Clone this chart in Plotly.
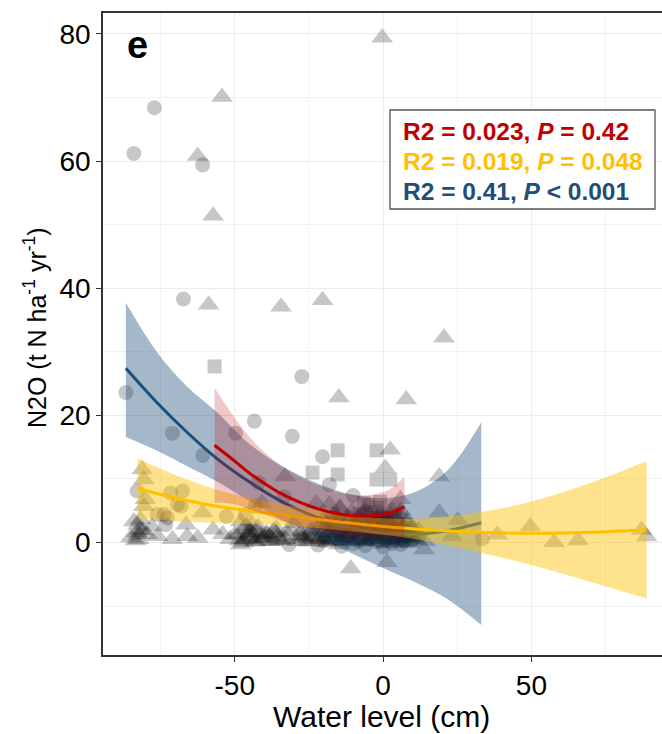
import plotly.graph_objects as go

# ---------------- data ----------------
# squares (red group)
sq_x = [-56.8, -15.3, -23.8, -15.3, -2.2, -2.2, 2.4, -5.0, -2.0, -8.0, 0.0, 4.0, -3.0,
        -6.5, -1.0, 1.5, -4.0]
sq_y = [27.7, 14.5, 11.0, 10.7, 14.5, 9.9, 9.9, 5.9, 5.5, 4.5, 4.0, 5.0, 3.0,
        6.2, 6.4, 3.6, 4.8]

# circles (blue group)
ci_x = [-77.1, -84.0, -60.8, -67.3, -27.4, -86.7, -43.4, -71.0, -49.7, -30.6, -60.8, -20.4,
        -42.0, -18.1, -10.1, -33.4, -82.9, -71.6, -67.6, -68.1, -76.1, -72.7, -73.3, -52.8,
        -46.5, -43.1, 33.4, -73.8, -69.3, -31.7, -25.0, -20.0, -15.0, -12.0, -8.0, -5.0,
        -2.0, 1.0, 4.0, 7.0, 10.0, -28.0, -17.0, -10.0, -4.0, 2.0, 12.0,
        -22.0, -14.0, -6.0, 0.0, 6.0, 9.0, -9.0, -1.0, 3.0]
ci_y = [68.4, 61.2, 59.4, 38.3, 26.1, 23.6, 19.1, 17.2, 17.2, 16.7, 13.7, 13.5,
        9.4, 9.1, 7.4, 7.2, 8.1, 7.8, 8.1, 5.7, 4.4, 3.9, 2.8, 4.1,
        4.4, 5.7, 0.6, 4.4, 6.0, -0.3, 0.8, 0.3, 0.5, 1.0, 0.2, 0.6,
        0.1, 0.4, 0.8, 0.2, 0.5, 1.2, 1.5, -0.2, 1.3, 1.6, 0.9,
        -0.4, -0.6, -0.5, -0.7, -0.3, 1.8, 2.6, 2.2, -0.2]

# triangles (yellow group)
tr_x = [-0.3, -54.3, -62.5, -57.3, -58.8, -34.4, -20.4, 20.5, -14.9, 7.8, 2.4, 0.7,
        18.9, -33.1, -81.2, -80.6, -80.1, -80.6, -60.8, 5.8, 18.9, 25.2, 23.2, 13.8,
        1.3, -10.9, 38.5, 49.6, 57.6, 65.7, 87.1, 88.8, -22.6, -18.1, -14.7, -40.9,
        -82.4, -82.4, -82.0, -82.6, -81.8, -83.0, -71.0, -66.4, -62.5, -57.3, -51.6, -44.8,
        -44.3, -32.9, -38.0, -27.0, -24.0, -20.0, -17.0, -14.0, -11.0, -8.0, -6.0, -4.0,
        -2.0, 0.0, 2.0, 4.0, 6.0, 8.0, 10.0, 12.0, 14.0, -30.0, -36.0, -48.0,
        -54.0, -66.0, -76.0, -78.0, -85.0, -47.0, -45.0, -43.0, -46.0, -41.0, -35.0, -31.0,
        -12.0, -9.0, -6.5, -3.0, -1.0, 1.5, 3.5, 5.5, 7.5, 9.5, -16.0, -19.0,
        -7.0, -2.5, 3.0, 6.5, 11.0, -13.0, -5.0, 0.5,
        -21.0, -19.0, -17.0, -15.0, -13.0, -11.0, -9.0, -7.0, -5.0, -3.0, -1.0, 1.0,
        3.0, 5.0, 7.0, 9.0, 11.0, -20.0, -18.0, -16.0, -14.0, -12.0, -10.0, -8.0,
        -6.0, -4.0, -2.0, 0.0, 2.0, 4.0, 6.0, 8.0, -19.0, -15.0, -11.0, -7.0,
        -3.0, 1.0, 5.0, 9.0, -17.0, -13.0, -9.0, -5.0, -1.0, 3.0, 7.0, -49.0,
        -47.0, -45.0, -43.0, -41.0, -39.0, -37.0, -48.0, -44.0, -40.0, -36.0, -27.0, -25.0,
        -23.0, -29.0, -83.5, -81.0, -84.0, -79.5, -10.5, -6.0, -2.0, 2.5, -14.5, 6.0]
tr_y = [79.4, 70.1, 60.8, 51.4, 37.4, 37.1, 38.1, 32.2, 22.8, 22.5, 14.6, 11.7,
        10.4, 10.4, 11.5, 9.9, 6.8, 5.7, 4.7, 6.8, 4.7, 3.5, 1.0, -1.1,
        -3.1, -4.1, 1.2, 2.5, 0.05, 0.3, 1.95, 0.95, 6.2, 6.0, 5.5, 6.2,
        0.5, 1.2, 2.0, 2.8, 3.6, 1.6, 0.5, 2.8, 0.7, 2.0, 0.5, 2.0,
        0.5, 0.5, 1.0, 0.6, 2.0, 0.5, 1.4, 0.3, 2.2, 0.8, 3.0, 0.2,
        1.8, 0.6, 2.5, 0.3, 1.5, 3.5, 0.8, 2.0, 0.2, 3.0, 2.2, 3.3,
        1.3, 1.0, 1.0, 2.5, 0.8, 0.5, 1.5, 0.2, 2.5, 1.2, 0.4, 1.8,
        4.0, 3.2, 4.6, 2.8, 4.2, 3.6, 2.0, 4.4, 1.2, 2.6, 3.4, 2.8,
        1.6, 0.9, 5.2, 2.4, 1.1, 0.9, 2.4, 3.2,
        1.0, 2.2, 0.4, 3.1, 1.6, 0.2, 2.7, 1.1, 3.8, 0.5, 2.3, 1.4,
        0.1, 2.9, 0.7, 1.9, 0.4, 3.6, 1.5, 2.4, 0.8, 3.3, 1.8, 4.1,
        0.3, 3.0, 0.9, 3.7, 1.2, 2.2, 0.0, 1.0, 0.0, -0.3, 1.2, 2.0,
        1.5, -0.2, 0.6, -0.1, 4.3, 2.5, 0.5, 1.7, 4.6, 3.3, 2.6, 1.2,
        0.0, 0.9, 1.7, 0.4, 1.3, 0.2, -0.3, 2.8, 0.7, 1.5, 1.0, 0.1,
        1.4, 0.2, 0.3, 1.9, 3.3, 1.3, 4.9, 5.1, 3.9, 4.5, 5.4, 5.0]

# dense cloud of triangles near water level 0 (hard to separate in the picture)
dn_x = [-21.5, -20.3, -19.1, -18.4, -17.2, -16.0, -15.3, -14.1, -13.0, -12.2, -11.4, -10.3,
        -9.5, -8.6, -7.7, -6.8, -6.1, -5.2, -4.4, -3.5, -2.7, -1.8, -0.9, 0.2,
        1.1, 2.0, 2.9, 3.8, 4.7, 5.6, 6.5, 7.4, 8.3, 9.2,
        -21.0, -19.8, -18.7, -17.6, -16.5, -15.7, -14.6, -13.5, -12.6, -11.8, -10.8, -9.9,
        -9.0, -8.1, -7.2, -6.4, -5.6, -4.8, -3.9, -3.1, -2.2, -1.3, -0.4, 0.6,
        1.5, 2.4, 3.3, 4.2, 5.1, 6.0, 6.9, 7.8, 8.7, 9.8,
        -50.0, -48.5, -47.2, -46.0, -44.6, -43.3, -42.1, -40.8, -39.5, -38.2, -36.9, -35.5,
        -34.0, -32.6, -28.5, -26.0, -24.5, -23.0]
dn_y = [0.6, 1.9, 3.2, 0.2, 2.5, 1.1, 3.9, 0.7, 2.0, 3.4, 1.3, 0.1,
        2.8, 4.0, 1.6, 0.4, 3.1, 2.2, 0.9, 3.6, 1.4, 0.0, 2.6, 4.2,
        1.0, 3.0, 0.3, 1.8, 3.3, 0.8, 2.4, 0.1, 1.5, 0.6,
        2.8, 0.4, 1.5, 3.6, 0.9, 4.2, 1.9, 2.6, 0.3, 1.2, 3.7, 2.3,
        0.6, 1.7, 3.5, 2.5, 0.2, 4.4, 2.9, 1.0, 3.9, 2.0, 0.5, 1.5,
        3.4, 0.7, 2.4, 4.0, 0.5, 2.9, 1.2, 3.2, 0.9, 2.2,
        1.2, 0.3, 2.1, 0.8, 1.6, 0.1, 2.4, 0.7, 1.4, 0.2, 1.9, 0.9,
        0.3, 1.6, 1.1, 0.2, 1.7, 0.8]

# fitted curves and confidence bands
blue_x = [-86.7, -76, -66, -56, -45, -34, -22, -11, 0, 11, 22, 33.1]
blue_y = [27.4, 21.9, 17.3, 13.2, 9.5, 6.4, 3.9, 2.3, 1.5, 1.3, 1.9, 3.1]
blue_hi = [37.7, 29.8, 24.5, 20.5, 15.5, 12.0, 9.3, 7.6, 7.0, 8.0, 11.5, 18.9]
blue_lo = [16.6, 14.4, 12.0, 9.6, 6.5, 3.5, 1.0, -1.6, -4.0, -6.3, -9.0, -13.0]

red_x = [-56.8, -50, -45, -40, -34, -28, -22, -16, -10, -4, 2, 7.2]
red_y = [15.3, 12.8, 10.9, 9.3, 7.6, 6.3, 5.3, 4.6, 4.2, 4.2, 4.6, 5.6]
red_hi = [24.3, 19.6, 16.6, 14.2, 12.0, 10.3, 9.0, 8.0, 7.5, 7.5, 8.3, 10.3]
red_lo = [6.3, 6.0, 5.2, 4.4, 3.4, 2.5, 1.8, 1.3, 0.9, 0.8, 0.8, 0.9]

yel_x = [-82.7, -70, -56, -42, -28, -14, 0, 15, 33, 50, 70, 88.8]
yel_y = [8.5, 7.0, 5.7, 4.8, 4.0, 3.2, 2.5, 2.0, 1.6, 1.45, 1.6, 2.0]
yel_hi = [13.2, 10.6, 8.3, 6.7, 5.5, 4.5, 3.8, 3.8, 4.8, 6.45, 9.4, 12.8]
yel_lo = [3.8, 3.4, 3.1, 2.9, 2.5, 1.9, 1.2, 0.2, -1.6, -3.55, -6.2, -8.8]

stats_text = ["R2 = 0.023, <i>P</i> = 0.42",
              "R2 = 0.019, <i>P</i> = 0.048",
              "R2 = 0.41, <i>P</i> < 0.001"]
stats_color = ["#C00000", "#FFC000", "#1F4E79"]

# ---------------- figure ----------------
fig = go.Figure()
pt = dict(color="rgba(0,0,0,0.22)", line=dict(width=0))
fig.add_trace(go.Scatter(x=ci_x, y=ci_y, mode="markers",
                         marker=dict(symbol="circle", size=15, **pt), showlegend=False))
fig.add_trace(go.Scatter(x=tr_x + dn_x, y=tr_y + dn_y, mode="markers",
                         marker=dict(symbol="triangle-up", size=19, **pt), showlegend=False))
fig.add_trace(go.Scatter(x=sq_x, y=sq_y, mode="markers",
                         marker=dict(symbol="square", size=14, **pt), showlegend=False))


def add_fit(xs, ys, lo, hi, line_col, fill_col):
    fig.add_trace(go.Scatter(x=xs, y=lo, mode="lines", line=dict(width=0, shape="spline"),
                             showlegend=False, hoverinfo="skip"))
    fig.add_trace(go.Scatter(x=xs, y=hi, mode="lines", line=dict(width=0, shape="spline"),
                             fill="tonexty", fillcolor=fill_col, showlegend=False,
                             hoverinfo="skip"))
    fig.add_trace(go.Scatter(x=xs, y=ys, mode="lines",
                             line=dict(color=line_col, width=3, shape="spline"),
                             showlegend=False))


add_fit(blue_x, blue_y, blue_lo, blue_hi, "#1F4E79", "rgba(31,78,121,0.4)")
add_fit(yel_x, yel_y, yel_lo, yel_hi, "#FFC000", "rgba(255,192,0,0.45)")
add_fit(red_x, red_y, red_lo, red_hi, "#C00000", "rgba(192,0,0,0.22)")

W, H = 662, 734
L, R, T, B = 103, 0, 13, 79
pw, ph = W - L - R, H - T - B


def px(xp):
    return (xp - L) / pw


def py(yp):
    return (H - B - yp) / ph


fig.update_layout(
    width=W, height=H,
    margin=dict(l=L, r=R, t=T, b=B),
    paper_bgcolor="white", plot_bgcolor="white",
    font=dict(family="Liberation Sans, Arial, sans-serif", color="black"),
    xaxis=dict(range=[-94.4, 94.0], tickvals=[-50, 0, 50], ticktext=["-50", "0", "50"],
               showgrid=True, gridcolor="#EBEBEB", gridwidth=1.2,
               minor=dict(tickvals=[-75, -25, 25, 75], showgrid=True,
                          gridcolor="#F2F2F2", gridwidth=0.8),
               zeroline=False, showline=True, linecolor="#333333", linewidth=1.5,
               mirror=True, ticks="outside", ticklen=5, tickcolor="#333333",
               tickfont=dict(size=28, color="black")),
    yaxis=dict(range=[-17.7, 83.3], tickvals=[0, 20, 40, 60, 80],
               showgrid=True, gridcolor="#EBEBEB", gridwidth=1.2,
               minor=dict(tickvals=[-10, 10, 30, 50, 70], showgrid=True,
                          gridcolor="#F2F2F2", gridwidth=0.8),
               zeroline=False, showline=True, linecolor="#333333", linewidth=1.5,
               mirror=False, ticks="outside", ticklen=5, tickcolor="#333333",
               tickfont=dict(size=28, color="black")),
)

# legend box with statistics
fig.add_shape(type="rect", xref="paper", yref="paper",
              x0=px(390), x1=px(655), y0=py(209), y1=py(110),
              line=dict(color="#555555", width=1.3), fillcolor="white", layer="above")
for i, (t, c) in enumerate(zip(stats_text, stats_color)):
    fig.add_annotation(xref="paper", yref="paper", x=px(401), y=py(132 + 29.5 * i),
                       xanchor="left", yanchor="middle", showarrow=False,
                       text="<b>" + t + "</b>", font=dict(size=24.5, color=c))

# panel label
fig.add_annotation(xref="paper", yref="paper", x=px(137), y=py(45), xanchor="center",
                   yanchor="middle", showarrow=False, text="<b>e</b>",
                   font=dict(size=38, color="black"))

# axis titles
fig.add_annotation(xref="paper", yref="paper", x=px(381), y=py(716), xanchor="center",
                   yanchor="middle", showarrow=False, text="Water level (cm)",
                   font=dict(size=30, color="black"))
fig.add_annotation(xref="paper", yref="paper", x=px(35), y=py(328), xanchor="center",
                   yanchor="middle", showarrow=False, textangle=-90,
                   text="N2O (t N ha<sup>-1</sup> yr<sup>-1</sup>)",
                   font=dict(size=25, color="black"))

fig.write_html("out.html")
